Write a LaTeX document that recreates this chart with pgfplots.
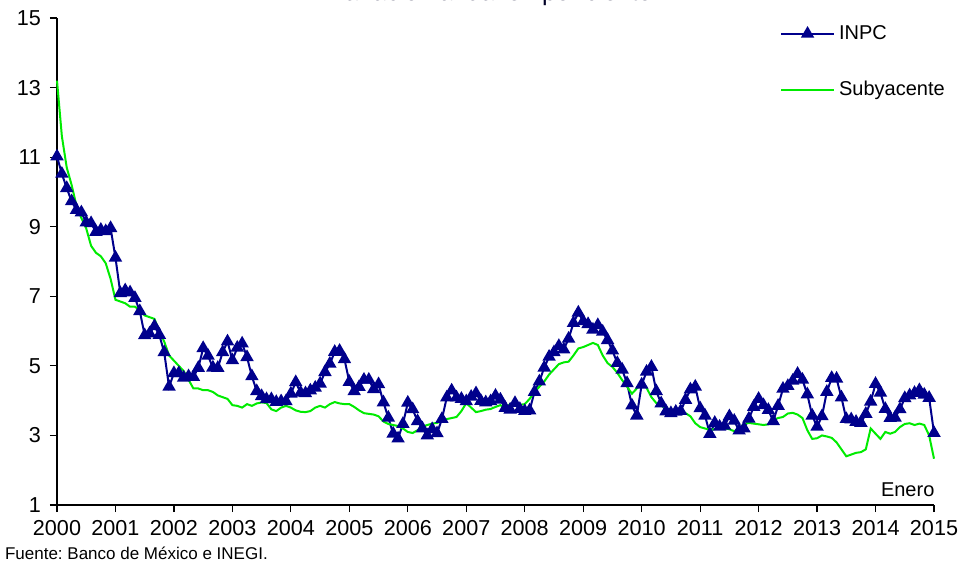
\documentclass[border=0pt]{standalone}
\usepackage{fontspec}
\setmainfont{Liberation Sans}
\usepackage{pgfplots}
\pgfplotsset{compat=1.18}
\usepackage{pgfplotstable}
\definecolor{inpc}{RGB}{0,0,140}
\definecolor{subc}{RGB}{0,235,0}
\frenchspacing

\pgfplotstableread[row sep=\\]{v\\
11.02\\ 10.52\\ 10.11\\ 9.73\\ 9.48\\ 9.41\\ 9.12\\ 9.10\\ 8.85\\ 8.91\\ 8.87\\ 8.96\\
8.11\\ 7.09\\ 7.17\\ 7.11\\ 6.95\\ 6.57\\ 5.88\\ 5.93\\ 6.14\\ 5.89\\ 5.39\\ 4.40\\
4.79\\ 4.79\\ 4.66\\ 4.70\\ 4.68\\ 4.94\\ 5.51\\ 5.29\\ 4.95\\ 4.94\\ 5.39\\ 5.70\\
5.16\\ 5.52\\ 5.64\\ 5.25\\ 4.70\\ 4.27\\ 4.13\\ 4.04\\ 4.04\\ 3.96\\ 3.98\\ 3.98\\
4.20\\ 4.53\\ 4.23\\ 4.21\\ 4.29\\ 4.37\\ 4.49\\ 4.82\\ 5.06\\ 5.40\\ 5.43\\ 5.19\\
4.54\\ 4.27\\ 4.39\\ 4.60\\ 4.60\\ 4.33\\ 4.47\\ 3.95\\ 3.51\\ 3.05\\ 2.91\\ 3.33\\
3.94\\ 3.75\\ 3.41\\ 3.20\\ 3.00\\ 3.18\\ 3.06\\ 3.47\\ 4.09\\ 4.29\\ 4.09\\ 4.05\\
3.98\\ 4.11\\ 4.21\\ 3.99\\ 3.95\\ 3.98\\ 4.14\\ 4.03\\ 3.79\\ 3.74\\ 3.93\\ 3.76\\
3.70\\ 3.72\\ 4.25\\ 4.55\\ 4.95\\ 5.26\\ 5.39\\ 5.57\\ 5.47\\ 5.78\\ 6.23\\ 6.53\\
6.28\\ 6.20\\ 6.04\\ 6.17\\ 5.98\\ 5.74\\ 5.44\\ 5.08\\ 4.89\\ 4.50\\ 3.86\\ 3.57\\
4.46\\ 4.83\\ 4.97\\ 4.27\\ 3.92\\ 3.69\\ 3.64\\ 3.68\\ 3.70\\ 4.02\\ 4.32\\ 4.40\\
3.78\\ 3.57\\ 3.04\\ 3.36\\ 3.25\\ 3.28\\ 3.55\\ 3.42\\ 3.14\\ 3.20\\ 3.48\\ 3.82\\
4.05\\ 3.87\\ 3.73\\ 3.41\\ 3.85\\ 4.34\\ 4.42\\ 4.57\\ 4.77\\ 4.60\\ 4.18\\ 3.57\\
3.25\\ 3.55\\ 4.25\\ 4.65\\ 4.63\\ 4.09\\ 3.47\\ 3.46\\ 3.39\\ 3.36\\ 3.62\\ 3.97\\
4.48\\ 4.23\\ 3.76\\ 3.50\\ 3.51\\ 3.75\\ 4.07\\ 4.15\\ 4.22\\ 4.30\\ 4.17\\ 4.08\\
3.07\\
}\inpctab

\pgfplotstableread[row sep=\\]{v\\
13.2\\ 11.6\\ 10.7\\ 10.2\\ 9.6\\ 9.25\\ 8.95\\ 8.45\\ 8.25\\ 8.15\\ 7.95\\ 7.5\\
6.9\\ 6.85\\ 6.8\\ 6.7\\ 6.7\\ 6.6\\ 6.45\\ 6.4\\ 6.35\\ 6.0\\ 5.7\\ 5.3\\
5.15\\ 5.0\\ 4.85\\ 4.6\\ 4.35\\ 4.35\\ 4.3\\ 4.3\\ 4.25\\ 4.15\\ 4.1\\ 4.05\\
3.87\\ 3.85\\ 3.8\\ 3.9\\ 3.85\\ 3.92\\ 3.95\\ 3.93\\ 3.75\\ 3.7\\ 3.8\\ 3.85\\
3.8\\ 3.72\\ 3.68\\ 3.67\\ 3.7\\ 3.8\\ 3.85\\ 3.8\\ 3.9\\ 3.96\\ 3.92\\ 3.9\\
3.9\\ 3.82\\ 3.72\\ 3.64\\ 3.62\\ 3.6\\ 3.55\\ 3.4\\ 3.33\\ 3.3\\ 3.27\\ 3.2\\
3.1\\ 3.07\\ 3.15\\ 3.25\\ 3.3\\ 3.34\\ 3.36\\ 3.42\\ 3.47\\ 3.5\\ 3.53\\ 3.7\\
3.93\\ 3.8\\ 3.67\\ 3.7\\ 3.74\\ 3.76\\ 3.82\\ 3.87\\ 3.79\\ 3.9\\ 3.88\\ 3.88\\
3.9\\ 4.05\\ 4.25\\ 4.4\\ 4.55\\ 4.75\\ 4.9\\ 5.05\\ 5.1\\ 5.12\\ 5.3\\ 5.5\\
5.54\\ 5.6\\ 5.66\\ 5.6\\ 5.3\\ 5.08\\ 4.97\\ 4.8\\ 4.59\\ 4.4\\ 4.2\\ 4.35\\
4.48\\ 4.37\\ 4.1\\ 3.93\\ 3.85\\ 3.8\\ 3.72\\ 3.65\\ 3.64\\ 3.64\\ 3.55\\ 3.35\\
3.24\\ 3.2\\ 3.16\\ 3.18\\ 3.2\\ 3.2\\ 3.18\\ 3.12\\ 3.2\\ 3.33\\ 3.36\\ 3.34\\
3.32\\ 3.3\\ 3.32\\ 3.44\\ 3.5\\ 3.53\\ 3.63\\ 3.65\\ 3.6\\ 3.5\\ 3.15\\ 2.9\\
2.92\\ 3.0\\ 2.97\\ 2.93\\ 2.8\\ 2.6\\ 2.4\\ 2.45\\ 2.5\\ 2.52\\ 2.6\\ 3.2\\
3.05\\ 2.9\\ 3.1\\ 3.05\\ 3.1\\ 3.24\\ 3.33\\ 3.35\\ 3.3\\ 3.34\\ 3.3\\ 3.0\\
2.33\\
}\subtab

\begin{document}
\begin{tikzpicture}
\begin{axis}[
  name=ax,
  scale only axis,
  width=438.5pt, height=243.5pt,
  xmin=0, xmax=180, ymin=1, ymax=15,
  axis lines=left,
  axis line style={-, line width=0.75pt, black},
  clip=false,
  xtick={0,12,...,180},
  xticklabels={2000,2001,2002,2003,2004,2005,2006,2007,2008,2009,2010,2011,2012,2013,2014,2015},
  ytick={1,3,...,15},
  tick align=outside,
  major tick length=3.5pt,
  tick style={black, line width=0.6pt},
  /pgf/number format/assume math mode=true,
  tick label style={font=\fontsize{10.8}{13}\selectfont},
  xticklabel style={yshift=-0.5pt},
  yticklabel style={xshift=-1pt},
  legend style={at={(rel axis cs:0.824,0.994)}, anchor=north west, draw=none, fill=none,
    font=\fontsize{10}{12}\selectfont, row sep=15.5pt, inner sep=0pt,
    /tikz/every even column/.append style={column sep=3.5pt}},
  legend cell align=left,
  legend image code/.code={\draw[mark repeat=2,mark phase=2,#1] plot coordinates {(0pt,0pt) (13.25pt,0pt) (26.5pt,0pt)};},
]
\addplot[color=inpc, line width=1pt, mark=triangle*, mark size=2.9pt, mark options={fill=inpc, draw=inpc}]
  table[x expr=\coordindex, y=v] {\inpctab};
\addlegendentry{INPC}
\addplot[color=subc, line width=1pt, no marks]
  table[x expr=\coordindex, y=v] {\subtab};
\addlegendentry{Subyacente}
\node[font=\fontsize{10}{12}\selectfont] at (rel axis cs:0.970,0.031) {Enero};
\end{axis}
\node[anchor=west, font=\fontsize{8.5}{10}\selectfont] at ([shift={(-29.5pt,-24pt)}]ax.south west) {Fuente: Banco de México e INEGI.};
\node[anchor=base, font=\fontsize{12.5}{15}\selectfont, text=black!85!blue] at ([shift={(217pt,8.7pt)}]ax.north west) {Variación anual en por ciento};
\pgfresetboundingbox
\path[use as bounding box] ([shift={(-28.5pt,-31.5pt)}]ax.south west) rectangle ([shift={(14pt,9pt)}]ax.north east);
\end{tikzpicture}
\end{document}
